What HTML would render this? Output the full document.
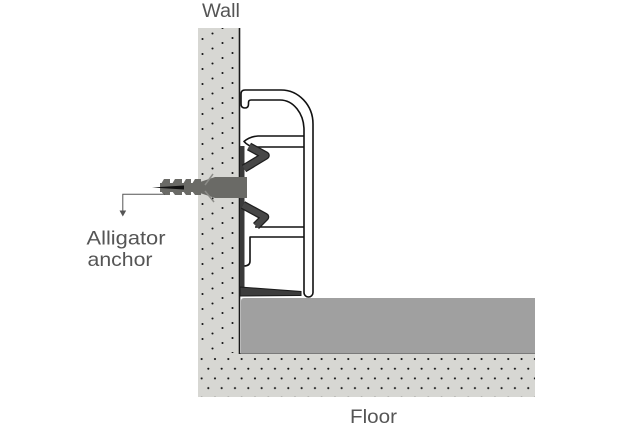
<!DOCTYPE html>
<html><head><meta charset="utf-8"><style>
html,body{margin:0;padding:0;background:#fff;}
svg{display:block;}
text{font-family:"Liberation Sans",sans-serif;fill:#555;}
</style></head><body>
<svg width="630" height="426" viewBox="0 0 630 426" xmlns="http://www.w3.org/2000/svg">
<defs>
<pattern id="wd" patternUnits="userSpaceOnUse" x="0" y="0" width="40" height="15">
<rect width="40" height="15" fill="#d7d7d3"/>
<circle cx="2.5" cy="9" r="1.05" fill="#111"/>
<circle cx="12.5" cy="3.5" r="1.05" fill="#111"/>
<circle cx="22.5" cy="13" r="1.05" fill="#111"/>
<circle cx="32.5" cy="8" r="1.05" fill="#111"/>
</pattern>
<pattern id="fd" patternUnits="userSpaceOnUse" x="-1.3" y="356" width="13.33" height="19.4">
<rect width="13.33" height="19.4" fill="#d7d7d3"/>
<circle cx="3" cy="3" r="1.05" fill="#111"/>
<circle cx="9.67" cy="12.7" r="1.05" fill="#111"/>
</pattern>
</defs>

<!-- wall -->
<rect x="198" y="28" width="41.5" height="325" fill="url(#wd)"/>
<!-- floor -->
<rect x="198" y="353" width="337" height="44" fill="url(#fd)"/>
<!-- slab -->
<path d="M241,301 Q241,298 244,298 L535,298 L535,353 L241,353 Z" fill="#a0a0a0"/>
<line x1="240" y1="353.5" x2="535" y2="353.5" stroke="#7a7a7a" stroke-width="1"/>
<!-- wall line -->
<line x1="239.5" y1="28" x2="239.5" y2="354" stroke="#1a1a1a" stroke-width="1.6"/>

<!-- profile outer -->
<g fill="none" stroke="#111" stroke-width="1.6" stroke-linejoin="round">
<path d="M304,130 L304,292.5 A4.5,4.5 0 0 0 313,292.5 L313,124 A32,34 0 0 0 281,90 L245,90 Q241,90 241,94 L241,104 Q241,108 245,108 Q248.5,108 248.5,104 L248.5,102.5 Q248.5,100 251,100 L280,100 A24,30 0 0 1 304,130"/>
<!-- arm -->
<path d="M304,136 L258,136 Q250,136.5 244,141.5 Q248,146 254,147 L304,147"/>
<!-- cell lines -->
<line x1="255" y1="227" x2="304" y2="227"/>
<path d="M304,237 L250,237 L250,261 Q250,266 244,266"/>
</g>

<!-- dark clip -->
<rect x="240" y="146" width="4.5" height="150" fill="#3a3a3a"/>
<path d="M249,146.5 L265.5,155.5 L244,168.5" fill="none" stroke="#1e1e1e" stroke-width="8.5" stroke-linejoin="round"/>
<path d="M249,146.5 L265.5,155.5 L244,168.5" fill="none" stroke="#474747" stroke-width="6" stroke-linejoin="round"/>
<path d="M243,205 L265,217 L256,226" fill="none" stroke="#1e1e1e" stroke-width="8.5" stroke-linejoin="round"/>
<path d="M243,205 L265,217 L256,226" fill="none" stroke="#474747" stroke-width="6" stroke-linejoin="round"/>
<polygon points="240,287 301,291.5 301,295.5 240,296" fill="#3d3d3d" stroke="#1a1a1a" stroke-width="1"/>

<!-- anchor -->
<g fill="#6a6a66">
<polygon points="200,182 215,177 247,177 247,198 215,198 200,193"/>
<rect x="160" y="183" width="42" height="9"/>
<polygon points="161,184 164,179 170,179 170,195 164,195 161,191"/>
<polygon points="172,184 175,179 182,179 182,195 175,195 172,191"/>
<polygon points="183,184 186,179 191,179 191,195 186,195 183,191"/>
<polygon points="192,184 195,179 201,179 201,195 195,195 192,191"/>
</g>
<polygon points="152,187.5 184,185.5 184,189.5" fill="#111"/>
<g stroke="#8c8c88" stroke-width="1.5" fill="none">
<line x1="213" y1="174" x2="205" y2="185"/>
<line x1="205" y1="191" x2="214" y2="202"/>
</g>

<!-- leader -->
<polyline points="165,194.3 122.8,194.3 122.8,211" fill="none" stroke="#555" stroke-width="1"/>
<polygon points="119.5,210.5 126.2,210.5 122.8,216.5" fill="#555"/>

<!-- labels -->
<text x="202" y="17" font-size="19" textLength="38" lengthAdjust="spacingAndGlyphs">Wall</text>
<text x="86.5" y="244.5" font-size="19.5" textLength="79" lengthAdjust="spacingAndGlyphs">Alligator</text>
<text x="87.5" y="266" font-size="19.5" textLength="65" lengthAdjust="spacingAndGlyphs">anchor</text>
<text x="350" y="423" font-size="19.5" textLength="47" lengthAdjust="spacingAndGlyphs">Floor</text>
</svg>
</body></html>
